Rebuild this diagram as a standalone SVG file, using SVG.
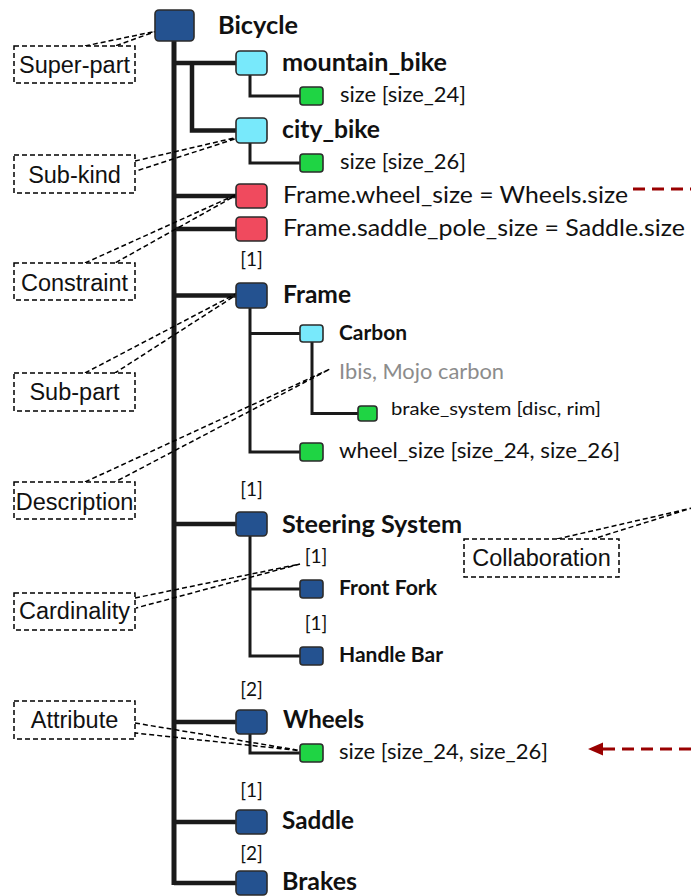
<svg xmlns="http://www.w3.org/2000/svg" width="691" height="896" viewBox="0 0 691 896">
<style>
.n{stroke:#2b2b2b;stroke-width:1.6}
.top{fill:#245290}
.cy{fill:#78e9fb}
.rd{fill:#f04a5e}
.gr{fill:#1fd444}
.trunk{stroke:#1a1a1a;stroke-width:5;fill:none}
.br{stroke:#1a1a1a;stroke-width:4.5;fill:none}
.ln{stroke:#1a1a1a;stroke-width:3;fill:none}
.co{stroke:#000;stroke-width:1.5;stroke-dasharray:5 3;fill:none}
.cb{stroke:#000;stroke-width:1.5;stroke-dasharray:5 3;fill:#fff}
.ct{font-family:"Liberation Sans",Arial,sans-serif;font-size:23.5px;fill:#111;text-anchor:middle}
.nm{font-family:Lato,"Open Sans",sans-serif;font-weight:bold;font-size:24px;fill:#111}
.sn{font-family:Lato,"Open Sans",sans-serif;font-weight:bold;font-size:21px;fill:#111}
.tx{font-family:Lato,"Open Sans",sans-serif;font-size:24px;fill:#111}
.at{font-family:Lato,"Open Sans",sans-serif;font-size:21px;fill:#111}
.sm{font-family:Lato,"Open Sans",sans-serif;font-size:17px;fill:#111}
.cd{font-family:Lato,"Open Sans",sans-serif;font-size:19px;fill:#111}
.ds{font-family:Lato,"Open Sans",sans-serif;font-size:21px;fill:#8c8c8c}
.red{stroke:#990000;stroke-width:3;stroke-dasharray:12 7;fill:none}
</style>
<g id="connectors">
<path class="trunk" d="M174 41V885"/>
<path class="br" d="M174 63H236M192 63V130.5H236M174 196H236M174 229H236M174 295.5H236M174 524H236M174 722H236M174 822H236M174 883H236"/>
<path class="ln" d="M250 75V96H300M250 143V163H300"/>
<path class="ln" d="M250 308V452H300M250 333.5H300M312 342V413.5H358"/>
<path class="ln" d="M250 536V656H300M250 589H300"/>
<path class="ln" d="M250 734V753H300"/>
<path class="red" d="M633 189H691"/>
<path class="red" d="M691 749H600"/>
<path d="M588 749L603 742.5V755.5Z" fill="#990000"/>
</g>
<g id="callouts">
<g id="c-superpart"><polyline class="co" points="85,46 157,31 115,46"/><rect class="cb" x="14" y="46" width="121" height="37"/><text class="ct" x="74.5" y="73">Super-part</text></g>
<g id="c-subkind"><polyline class="co" points="135,161 247,135 136,171"/><rect class="cb" x="14" y="155" width="121" height="38"/><text class="ct" x="74.5" y="183">Sub-kind</text></g>
<g id="c-constraint"><polyline class="co" points="85,263 242,192 115,263"/><rect class="cb" x="14" y="263" width="121" height="37"/><text class="ct" x="74.5" y="291">Constraint</text></g>
<g id="c-subpart"><polyline class="co" points="85,373 247,288 115,373"/><rect class="cb" x="14" y="373" width="121" height="38"/><text class="ct" x="74.5" y="400">Sub-part</text></g>
<g id="c-description"><polyline class="co" points="85,482 330,369 115,482"/><rect class="cb" x="14" y="482" width="121" height="37"/><text class="ct" x="74.5" y="510">Description</text></g>
<g id="c-cardinality"><polyline class="co" points="135,598 300,564 136,608"/><rect class="cb" x="14" y="593" width="121" height="37"/><text class="ct" x="74.5" y="619">Cardinality</text></g>
<g id="c-attribute"><polyline class="co" points="135,723 303,751 135,733"/><rect class="cb" x="14" y="701" width="121" height="38"/><text class="ct" x="74.5" y="728">Attribute</text></g>
<g id="c-collaboration"><polyline class="co" points="557,539 692,508 593,539"/><rect class="cb" x="464" y="539" width="155" height="38"/><text class="ct" x="541.5" y="566">Collaboration</text></g>
</g>
<g id="bicycle"><rect class="n top" x="155" y="10" width="39" height="31" rx="4"/><text class="nm" x="218" y="34" textLength="80" lengthAdjust="spacingAndGlyphs">Bicycle</text></g>
<g id="mountain_bike"><rect class="n cy" x="236" y="51" width="31" height="24" rx="4"/><text class="nm" x="282" y="71" textLength="165" lengthAdjust="spacingAndGlyphs">mountain_bike</text></g>
<g id="mb_size"><rect class="n gr" x="300" y="87" width="23" height="18" rx="3"/><text class="at" x="340" y="102" textLength="126" lengthAdjust="spacingAndGlyphs">size [size_24]</text></g>
<g id="city_bike"><rect class="n cy" x="236" y="118" width="31" height="25" rx="4"/><text class="nm" x="282" y="138" textLength="98" lengthAdjust="spacingAndGlyphs">city_bike</text></g>
<g id="cb_size"><rect class="n gr" x="300" y="154" width="23" height="18" rx="3"/><text class="at" x="340" y="169" textLength="126" lengthAdjust="spacingAndGlyphs">size [size_26]</text></g>
<g id="constraint1"><rect class="n rd" x="236" y="184" width="31" height="24" rx="4"/><text class="tx" x="283" y="203" textLength="345" lengthAdjust="spacingAndGlyphs">Frame.wheel_size = Wheels.size</text></g>
<g id="constraint2"><rect class="n rd" x="236" y="217" width="31" height="24" rx="4"/><text class="tx" x="283" y="236" textLength="402" lengthAdjust="spacingAndGlyphs">Frame.saddle_pole_size = Saddle.size</text></g>
<g id="frame"><text class="cd" x="251.5" y="266" text-anchor="middle">[1]</text><rect class="n top" x="236" y="283" width="31" height="25" rx="4"/><text class="nm" x="283" y="303" textLength="68" lengthAdjust="spacingAndGlyphs">Frame</text></g>
<g id="carbon"><rect class="n cy" x="300" y="325" width="23" height="17" rx="3"/><text class="sn" x="339" y="340" textLength="68" lengthAdjust="spacingAndGlyphs">Carbon</text></g>
<g id="carbon_desc"><text class="ds" x="339" y="379" textLength="165" lengthAdjust="spacingAndGlyphs">Ibis, Mojo carbon</text></g>
<g id="brake_system"><rect class="n gr" x="358" y="406" width="19" height="15" rx="3"/><text class="sm" x="391" y="415" textLength="210" lengthAdjust="spacingAndGlyphs">brake_system [disc, rim]</text></g>
<g id="wheel_size"><rect class="n gr" x="300" y="443" width="23" height="18" rx="3"/><text class="at" x="339" y="458" textLength="281" lengthAdjust="spacingAndGlyphs">wheel_size [size_24, size_26]</text></g>
<g id="steering"><text class="cd" x="251.5" y="496" text-anchor="middle">[1]</text><rect class="n top" x="236" y="512" width="31" height="24" rx="4"/><text class="nm" x="282" y="533" textLength="180" lengthAdjust="spacingAndGlyphs">Steering System</text></g>
<g id="front_fork"><text class="cd" x="316" y="563" text-anchor="middle">[1]</text><rect class="n top" x="300" y="580" width="23" height="18" rx="3"/><text class="sn" x="339" y="595" textLength="98" lengthAdjust="spacingAndGlyphs">Front Fork</text></g>
<g id="handle_bar"><text class="cd" x="316" y="630" text-anchor="middle">[1]</text><rect class="n top" x="300" y="647" width="23" height="18" rx="3"/><text class="sn" x="339" y="662" textLength="104" lengthAdjust="spacingAndGlyphs">Handle Bar</text></g>
<g id="wheels"><text class="cd" x="251.5" y="696" text-anchor="middle">[2]</text><rect class="n top" x="236" y="710" width="31" height="24" rx="4"/><text class="nm" x="283" y="728" textLength="81" lengthAdjust="spacingAndGlyphs">Wheels</text></g>
<g id="wheels_size"><rect class="n gr" x="300" y="744" width="23" height="18" rx="3"/><text class="at" x="339" y="759" textLength="209" lengthAdjust="spacingAndGlyphs">size [size_24, size_26]</text></g>
<g id="saddle"><text class="cd" x="251.5" y="797" text-anchor="middle">[1]</text><rect class="n top" x="236" y="810" width="31" height="24" rx="4"/><text class="nm" x="282" y="829" textLength="72" lengthAdjust="spacingAndGlyphs">Saddle</text></g>
<g id="brakes"><text class="cd" x="251.5" y="860" text-anchor="middle">[2]</text><rect class="n top" x="236" y="871" width="31" height="24" rx="4"/><text class="nm" x="282" y="890" textLength="75" lengthAdjust="spacingAndGlyphs">Brakes</text></g>
</svg>
